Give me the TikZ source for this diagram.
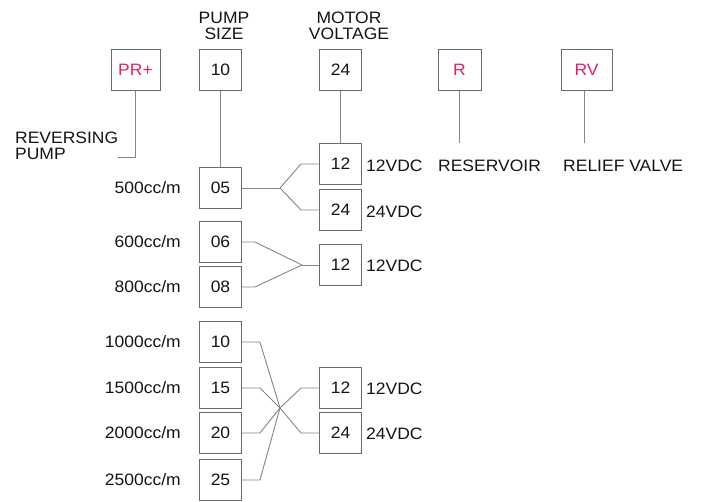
\documentclass[tikz,border=0pt]{standalone}
\usepackage{fontspec}
\setmainfont{Liberation Sans}[FakeStretch=1.06]
\definecolor{txt}{HTML}{141414}
\definecolor{pinkred}{HTML}{E2206A}
\definecolor{boxc}{HTML}{6A6A6A}
\definecolor{linec}{HTML}{858585}
\begin{document}
\begin{tikzpicture}[x=1pt,y=-1pt,
  font=\fontsize{16.5}{18}\selectfont, text=txt,
  sbox/.style={draw=boxc, line width=0.9pt, minimum width=42pt, minimum height=41pt, inner sep=0pt},
  lbl/.style={inner sep=0pt, align=left},
  conn/.style={draw=linec, line width=0.9pt},
  red/.style={text=pinkred}]
\useasboundingbox (0,0) rectangle (704,502);
% headers
\node[lbl, align=center] (hps) at (224,26) {PUMP\\[-2pt]SIZE};
\node[lbl, align=center] (hmv) at (349,26) {MOTOR\\[-2pt]VOLTAGE};
% top row
\node[sbox, minimum width=49pt, red] (pr) at (135.5,70) {PR+};
\node[sbox] (ps10) at (220.5,70) {10};
\node[sbox] (mv24) at (340.5,70) {24};
\node[sbox, minimum width=43pt, red] (res) at (459.5,70) {R};
\node[sbox, minimum width=51pt, red] (rv) at (586.5,70) {RV};
% reversing pump
\node[lbl, anchor=west] (rp) at (15,146) {REVERSING\\[-2pt]PUMP};
\coordinate (prc) at (135.5,157);
\coordinate (pre) at (118,157);
\draw[conn] (pr.south) -- (prc) -- (pre);
% reservoir and relief valve
\coordinate (rese) at (459.5,143);
\coordinate (rve) at (584,143);
\draw[conn] (res.south) -- (rese);
\draw[conn] (rv.south -| rve) -- (rve);
\node[lbl, anchor=west] (rest) at (438,166) {RESERVOIR};
\node[lbl, anchor=west] (rvt) at (563,166) {RELIEF VALVE};
% pump size column
\node[sbox] (b05) at (220.5,188) {05};
\node[sbox] (b06) at (220.5,242) {06};
\node[sbox] (b08) at (220.5,287) {08};
\node[sbox] (b10) at (220.5,342) {10};
\node[sbox] (b15) at (220.5,388) {15};
\node[sbox] (b20) at (220.5,433) {20};
\node[sbox] (b25) at (220.5,480) {25};
% flow labels
\node[lbl, anchor=east] (f05) at (181,188) {500cc/m};
\node[lbl, anchor=east] (f06) at (181,242) {600cc/m};
\node[lbl, anchor=east] (f08) at (181,287) {800cc/m};
\node[lbl, anchor=east] (f10) at (181,342) {1000cc/m};
\node[lbl, anchor=east] (f15) at (181,388) {1500cc/m};
\node[lbl, anchor=east] (f20) at (181,433) {2000cc/m};
\node[lbl, anchor=east] (f25) at (181,480) {2500cc/m};
% voltage column
\node[sbox] (v12a) at (340.5,164) {12};
\node[sbox] (v24a) at (340.5,210) {24};
\node[sbox] (v12b) at (340.5,265) {12};
\node[sbox] (v12c) at (340.5,388) {12};
\node[sbox] (v24c) at (340.5,433) {24};
\node[lbl, anchor=west] (t12a) at (366,166) {12VDC};
\node[lbl, anchor=west] (t24a) at (366,212) {24VDC};
\node[lbl, anchor=west] (t12b) at (366,266) {12VDC};
\node[lbl, anchor=west] (t12c) at (366,389) {12VDC};
\node[lbl, anchor=west] (t24c) at (366,434) {24VDC};
% vertical links
\draw[conn] (ps10.south) -- (b05.north);
\draw[conn] (mv24.south) -- (v12a.north);
% fork 1
\coordinate (j1) at (280,188);
\draw[conn] (b05.east) -- (j1);
\draw[conn] (j1) -- ([xshift=-18pt]v12a.west) -- (v12a.west);
\draw[conn] (j1) -- ([xshift=-18pt]v24a.west) -- (v24a.west);
% fork 2
\coordinate (j2) at (302,265);
\draw[conn] (b06.east) -- ([xshift=13pt]b06.east) -- (j2);
\draw[conn] (b08.east) -- ([xshift=13pt]b08.east) -- (j2);
\draw[conn] (j2) -- (v12b.west);
% bundle 3
\coordinate (j3) at (280,408);
\foreach \b in {b10,b15,b20,b25}{
  \draw[conn] (\b.east) -- ([xshift=18pt]\b.east) -- (j3);
}
\draw[conn] (j3) -- ([xshift=-18pt]v12c.west) -- (v12c.west);
\draw[conn] (j3) -- ([xshift=-18pt]v24c.west) -- (v24c.west);
\end{tikzpicture}
\end{document}
